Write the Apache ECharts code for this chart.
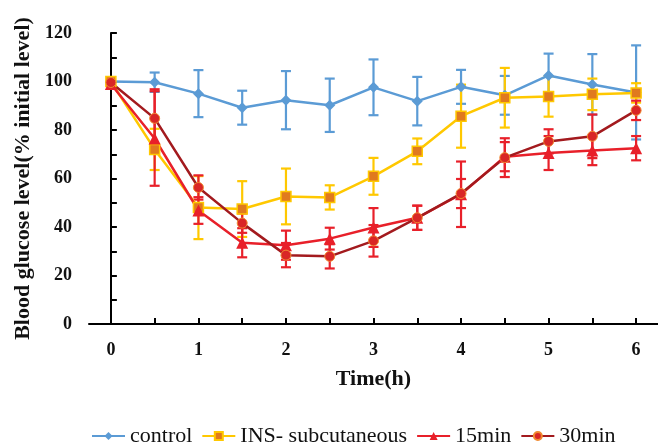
<!DOCTYPE html>
<html><head><meta charset="utf-8">
<script src="https://cdn.jsdelivr.net/npm/echarts@6/dist/echarts.min.js"></script>
<style>html,body{margin:0;padding:0;background:#fff}#c{width:658px;height:446px}</style>
</head><body><div id="c"></div>
<script>
const times = [0, 0.5, 1, 1.5, 2, 2.5, 3, 3.5, 4, 4.5, 5, 5.5, 6];
const xTickLabels = [0, 1, 2, 3, 4, 5, 6];
const yTickLabels = [0, 20, 40, 60, 80, 100, 120];
const seriesNames = ['control', 'INS- subcutaneous', '15min', '30min'];
const control    = [100, 99.7, 95, 89.2, 92.3, 90.2, 97.6, 91.9, 97.8, 94.3, 102.5, 98.8, 95.5];
const controlErr = [0, 4, 9.7, 7, 12, 11, 11.5, 10, 7, 8, 9, 12.5, 19.4];
const ins        = [100, 72, 48, 47.4, 52.6, 52.2, 60.9, 71.2, 85.7, 93.3, 93.8, 94.7, 95.3];
const insErr     = [0, 8.5, 13, 11.5, 11.5, 5, 7.6, 5.3, 13, 12.3, 8.3, 6.5, 4];
const min15      = [99, 76.5, 46.8, 33.5, 32.5, 35.2, 39.8, 43.8, 53.5, 69, 70.5, 71.5, 72.5];
const min15Err   = [0, 19.5, 5.5, 6, 6, 4.5, 8, 5, 13.5, 6, 7, 6, 5];
const min30      = [99.6, 84.8, 56.3, 41.6, 28.4, 27.9, 34.3, 43.8, 53.8, 68.6, 75.3, 77.4, 88.1];
const min30Err   = [0, 12, 5, 4, 5, 5, 6.5, 5, 6, 8, 5, 9, 4];

const serif = '"Liberation Serif", "Times New Roman", serif';
const colors = {
  control: '#5B9BD5', ins: '#FFC800', insFill: '#E07A1F',
  m15: '#E8202A', m30: '#A31A1E', m30Fill: '#D92626'
};

function pairs(vals) { return times.map((t, i) => [t, vals[i]]); }
function errData(vals, errs) { return times.map((t, i) => [t, vals[i] - errs[i], vals[i] + errs[i]]); }
function errSeries(vals, errs, color) {
  return {
    type: 'custom', silent: true, z: 1,
    data: errData(vals, errs).filter(d => d[2] - d[1] > 0),
    encode: { x: 0, y: [1, 2] },
    renderItem: function (params, api) {
      const lo = api.coord([api.value(0), api.value(1)]);
      const hi = api.coord([api.value(0), api.value(2)]);
      const w = 5;
      const st = { stroke: color, lineWidth: 2.2 };
      return { type: 'group', children: [
        { type: 'line', shape: { x1: lo[0], y1: lo[1], x2: hi[0], y2: hi[1] }, style: st },
        { type: 'line', shape: { x1: lo[0] - w, y1: lo[1], x2: lo[0] + w, y2: lo[1] }, style: st },
        { type: 'line', shape: { x1: hi[0] - w, y1: hi[1], x2: hi[0] + w, y2: hi[1] }, style: st }
      ]};
    }
  };
}

const chart = echarts.init(document.getElementById('c'), null, { renderer: 'canvas' });
chart.setOption({
  animation: false,
  textStyle: { fontFamily: serif },
  grid: { left: 89, top: 33, width: 572, height: 291, containLabel: false },
  xAxis: {
    type: 'value', min: -0.25, max: 6.25,
    name: 'Time(h)', nameLocation: 'middle', nameGap: 44,
    nameTextStyle: { fontFamily: serif, fontWeight: 'bold', fontSize: 22, color: '#111' },
    axisLine: { show: true, onZero: false, lineStyle: { color: '#000', width: 2 } },
    axisTick: { show: true, inside: true, length: 6, lineStyle: { color: '#000', width: 2 },
      customValues: [0, 0.5, 1, 1.5, 2, 2.5, 3, 3.5, 4, 4.5, 5, 5.5, 6] },
    axisLabel: { customValues: xTickLabels, margin: 17, fontFamily: serif, fontWeight: 'bold', fontSize: 18, color: '#111' },
    splitLine: { show: false }
  },
  yAxis: {
    type: 'value', min: 0, max: 120, interval: 10,
    name: 'Blood glucose level(% initial level)', nameLocation: 'middle', nameGap: 54,
    nameTextStyle: { fontFamily: serif, fontWeight: 'bold', fontSize: 22, color: '#111' },
    axisLine: { show: true, lineStyle: { color: '#000', width: 2 } },
    axisTick: { show: true, inside: true, length: 6, lineStyle: { color: '#000', width: 2 } },
    axisLabel: { margin: 17, fontFamily: serif, fontWeight: 'bold', fontSize: 18, color: '#111',
      formatter: v => (yTickLabels.indexOf(v) >= 0 ? String(v) : '') },
    splitLine: { show: false }
  },
  legend: {
    top: 420, left: 86, itemGap: 9, itemWidth: 33, itemHeight: 10,
    textStyle: { fontFamily: serif, fontSize: 22, color: '#111' },
    data: seriesNames
  },
  series: [
    errSeries(control, controlErr, colors.control),
    errSeries(ins, insErr, colors.ins),
    errSeries(min15, min15Err, colors.m15),
    errSeries(min30, min30Err, colors.m15),
    { name: seriesNames[0], type: 'line', data: pairs(control), z: 3,
      symbol: 'diamond', symbolSize: 11,
      lineStyle: { color: colors.control, width: 2.5 },
      itemStyle: { color: colors.control } },
    { name: seriesNames[1], type: 'line', data: pairs(ins), z: 3,
      symbol: 'rect', symbolSize: 10,
      lineStyle: { color: colors.ins, width: 2.5 },
      itemStyle: { color: colors.insFill, borderColor: colors.ins, borderWidth: 1.5 } },
    { name: seriesNames[2], type: 'line', data: pairs(min15), z: 3,
      symbol: 'triangle', symbolSize: 12,
      lineStyle: { color: colors.m15, width: 2.5 },
      itemStyle: { color: colors.m15 } },
    { name: seriesNames[3], type: 'line', data: pairs(min30), z: 3,
      symbol: 'circle', symbolSize: 10,
      lineStyle: { color: colors.m30, width: 2.5 },
      itemStyle: { color: colors.m30Fill, borderColor: '#F08A30', borderWidth: 1 } }
  ]
});
</script></body></html>
